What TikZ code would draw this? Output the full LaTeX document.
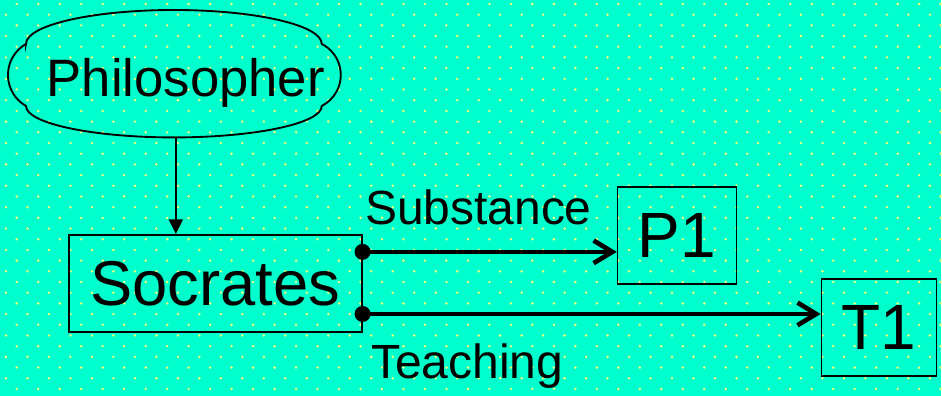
\documentclass[tikz,border=0pt]{standalone}
\usepackage{fontspec}
\setmainfont{Liberation Sans}
\usetikzlibrary{arrows.meta}
\definecolor{sea}{HTML}{00FFCC}
\definecolor{spot}{HTML}{F0FF78}

\begin{document}
\begin{tikzpicture}[x=0.75pt,y=-0.75pt,
  box/.style={draw,line width=1.2pt,inner sep=0pt,minimum height=72.75pt},
  cloudline/.style={line width=1.4pt},
  isa/.style={line width=1.1pt,-{Triangle[length=11pt,width=10.5pt]}},
  link/.style={line width=3.5pt,-{Straight Barb[length=14pt,width=17pt]}},
  lbl/.style={font=\fontsize{36}{40}\selectfont,inner sep=0pt}]
\fill[sea] (0,0) rectangle (942,396);
\foreach \j in {0,...,36}{
  \pgfmathsetmacro\off{10.75*(1-mod(\j,2))}
  \foreach \i in {0,...,43}
    \fill[spot] (6+\off+21.5*\i,4+10.7*\j) circle (1.05pt);
}
\draw[cloudline] (26,44) arc[start angle=180,end angle=360,x radius=148,y radius=34]
  arc[start angle=-63,end angle=63,radius=34.8]
  arc[start angle=0,end angle=180,x radius=148,y radius=31.5]
  arc[start angle=119.7,end angle=240.3,radius=35.7] -- cycle;
\node[anchor=base,inner sep=0pt,font=\fontsize{39.5}{44}\selectfont] (phil) at (186,97) {Philosopher};
\coordinate (cloudbot) at (176,137.5);
\node[box,minimum width=219.75pt,font=\fontsize{47.5}{52}\selectfont] (soc) at (215.5,283.5) {Socrates};
\node[box,minimum width=89.25pt,font=\fontsize{48}{52}\selectfont] (p1) at (677.5,235.5) {P1};
\node[box,minimum width=86.25pt,font=\fontsize{48}{52}\selectfont] (t1) at (879.5,327.5) {T1};
\draw[isa] (cloudbot) -- (cloudbot |- soc.north);
\coordinate (subst) at ([yshift=23.6pt]soc.east);
\coordinate (teach) at ([yshift=-23pt]soc.east);
\draw[link] (subst) -- (subst -| p1.west);
\draw[link] (teach) -- (teach -| t1.west);
\fill (subst) circle (6pt);
\fill (teach) circle (6pt);
\node[lbl,anchor=base west] (sub) at (365,225) {Substance};
\node[lbl,anchor=base west] (tea) at (371,379) {Teaching};
\end{tikzpicture}
\end{document}
